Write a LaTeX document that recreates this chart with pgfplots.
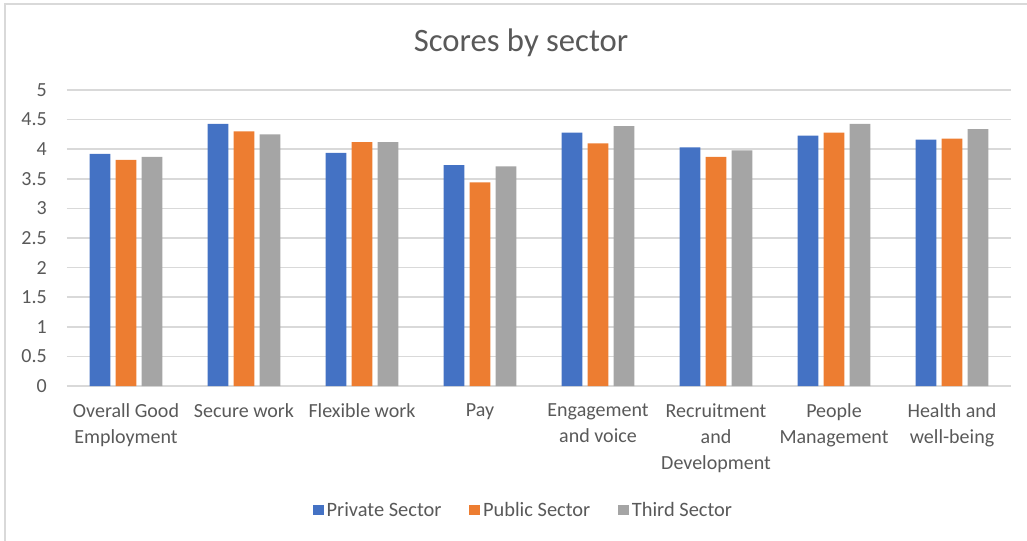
\documentclass[border=0pt]{standalone}
\usepackage{pgfplots}
\pgfplotsset{compat=1.18}
\usepackage{fontspec}
\setmainfont{Carlito}
\definecolor{cblue}{HTML}{4472C4}
\definecolor{corange}{HTML}{ED7D31}
\definecolor{cgray}{HTML}{A5A5A5}
\definecolor{textgray}{HTML}{595959}
\definecolor{gridgray}{HTML}{D9D9D9}
\begin{document}
\begin{tikzpicture}
\begin{axis}[
  scale only axis,
  width=708pt, height=222pt,
  ybar=4pt, bar width=15.5pt,
  xmin=-0.5, xmax=7.5,
  ymin=0, ymax=5,
  xtick={0,1,2,3,4,5,6,7},
  xticklabels={{Overall Good\\Employment},{Secure work},{Flexible work},{Pay},{Engagement\\and voice},{Recruitment\\and\\Development},{People\\Management},{Health and\\well-being}},
  ytick={0,0.5,1,1.5,2,2.5,3,3.5,4,4.5,5},
  yticklabels={0,0.5,1,1.5,2,2.5,3,3.5,4,4.5,5},
  ymajorgrids=true,
  grid style={draw=gridgray, line width=1.1pt},
  axis line style={draw=none},
  major tick length=0pt,
  ticklabel style={font=\fontsize{15}{19.5}\selectfont, text=textgray},
  xticklabel style={align=center, anchor=north, inner sep=0pt, yshift=-13pt},
  yticklabel style={anchor=east, inner sep=0pt, xshift=-15pt},
  /pgf/number format/assume math mode=true,
  title={Scores by sector},
  title style={font=\fontsize{24.5}{28}\selectfont, text=textgray, at={(axis description cs:0.481,1.103)}, anchor=base},
  legend style={at={(axis description cs:0.484,-0.419)}, anchor=center, draw=none, legend columns=3,
    font=\fontsize{15.3}{18}\selectfont, text=textgray,
    /tikz/every even column/.append style={column sep=19pt}},
  legend image code/.code={\fill[#1,draw=none] (0pt,-4.1pt) rectangle (8.2pt,4.1pt);},
]
\addplot[fill=cblue, draw=none] coordinates {(0,3.92)(1,4.43)(2,3.94)(3,3.73)(4,4.28)(5,4.03)(6,4.23)(7,4.16)};
\addplot[fill=corange, draw=none] coordinates {(0,3.82)(1,4.30)(2,4.12)(3,3.44)(4,4.10)(5,3.87)(6,4.28)(7,4.18)};
\addplot[fill=cgray, draw=none] coordinates {(0,3.87)(1,4.25)(2,4.12)(3,3.71)(4,4.39)(5,3.98)(6,4.43)(7,4.34)};
\legend{Private Sector, Public Sector, Third Sector}
\end{axis}
\draw[gridgray, line width=1.2pt] (-46.5pt,-116pt) -- (-46.5pt,286.5pt) -- (721pt,286.5pt);
\pgfresetboundingbox
\path[use as bounding box] (-50.25pt,-115.5pt) rectangle (720pt,289.5pt);
\end{tikzpicture}
\end{document}
